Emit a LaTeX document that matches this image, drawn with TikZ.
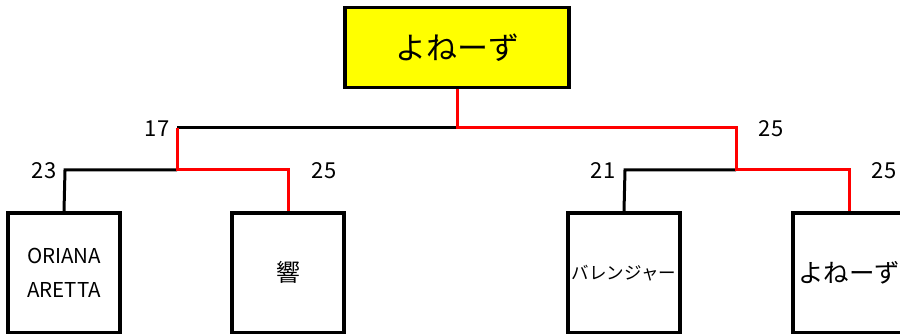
\documentclass[tikz,border=0pt]{standalone}
\usepackage{fontspec}
\setmainfont{Noto Sans CJK JP}
\definecolor{boxyellow}{RGB}{255,255,0}
\definecolor{winred}{RGB}{255,0,0}
\begin{document}
\begin{tikzpicture}[x=1pt,y=-1pt,
  box/.style={draw=black,line width=3.5pt,fill=white,minimum width=112pt,minimum height=120pt,inner sep=0pt,anchor=north,font=\fontsize{24}{28}\selectfont},
  win/.style={draw=winred,line width=3pt},
  lose/.style={draw=black,line width=3pt},
  score/.style={font=\fontsize{22}{24}\selectfont,inner sep=0pt}]
\clip (0,0) rectangle (900,334);
\useasboundingbox (0,0) rectangle (900,334);
\node[draw=black,line width=3.5pt,fill=boxyellow,minimum width=224pt,minimum height=80pt,inner sep=0pt,anchor=north,font=\fontsize{31}{34}\selectfont] (top) at (457,6) {よねーず};
\node[box,align=center,font=\fontsize{20.5}{34}\selectfont] (b1) at (64,211) {ORIANA\\ARETTA};
\node[box] (b2) at (288,211) {響};
\node[box,font=\fontsize{17.5}{20}\selectfont] (b3) at (624,211) {バレンジャー};
\node[box,font=\fontsize{25.5}{30}\selectfont] (b4) at (849,211) {よねーず};
\coordinate (j1) at (177,128);
\coordinate (j2) at (736,128);
\coordinate (l1) at (65,170);
\coordinate (l2) at (177,170);
\coordinate (r1) at (625,170);
\coordinate (r2) at (736,170);
% lines
\draw[lose] (j1) -- (457,128);
\draw[lose] (b1.north) -- (l1) -- (l2);
\draw[lose] (b3.north) -- (r1) -- (r2);
\draw[win] (top.south) -- (457,128) -| (j2) -- (r2) -| (b4.north);
\draw[win] (j1) -- (l2) -| (b2.north);
% scores
\node[score] (s17) at (157,129) {17};
\node[score] (s23) at (44,171) {23};
\node[score] (s25a) at (324,171) {25};
\node[score] (s25b) at (771,129) {25};
\node[score] (s21) at (603,171) {21};
\node[score] (s25c) at (884,171) {25};
\end{tikzpicture}
\end{document}
